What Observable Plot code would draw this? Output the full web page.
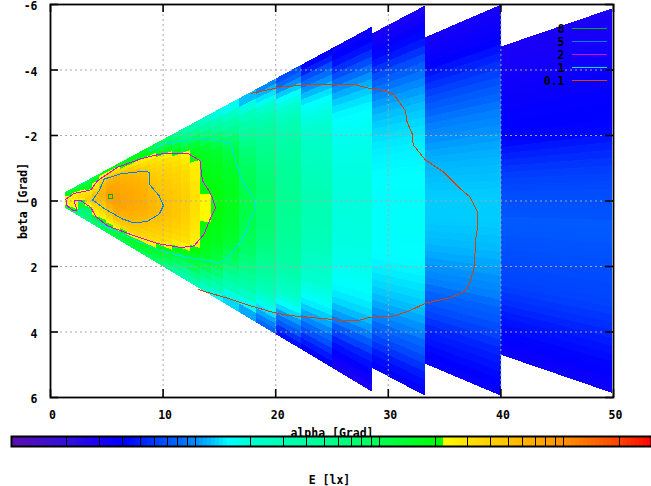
<!DOCTYPE html>
<html>
<head>
<meta charset="utf-8">
<script src="https://cdn.jsdelivr.net/npm/d3@7"></script>
<script src="https://cdn.jsdelivr.net/npm/@observablehq/plot@0.6"></script>
<style>
html,body{margin:0;padding:0;background:#fff}
#chart{position:relative;width:651px;height:486px;overflow:hidden}
#chart svg{position:absolute;left:0;background:transparent}
</style>
</head>
<body>
<div id="chart"></div>
<script>
const xTicks = [0,10,20,30,40,50];
const yTicks = [-6,-4,-2,0,2,4,6];
const xGrid = [10,20,30,40];
const yGrid = [-4,-2,0,2,4];
const columnEdges = [1.37,1.91,2.53,3.15,3.77,4.39,5.01,5.63,6.25,6.87,7.49,8.11,8.74,9.44,10.15,10.86,11.66,12.46,13.35,14.32,15.39,16.81,18.31,20.09,22.30,25.05,28.6,33.30,40.04,49.88];

// wedge sections: alpha range and beta limits at both ends
const sectionStart = [1.37,28.6,33.30,40.04];
const sectionEnd = [28.6,33.30,40.04,49.88];
const topStart = [-0.26,-5.1,-4.98,-4.70];
const topEnd = [-5.31,-5.95,-5.98,-5.86];
const bottomStart = [0.23,5.11,4.98,4.71];
const bottomEnd = [5.84,5.96,5.96,5.87];

// illuminance per column, rows from the top edge to the bottom edge
const col01 = [1.3,1.4,1.6,1.7,1.8,1.9,2.0,2.2,2.3,2.4,2.5,2.5,2.5,2.5,2.5,2.4,2.4,2.4,2.3,2.2,1.9,1.7,1.5,1.3,1.2];
const col02 = [1.0,1.2,1.4,1.7,1.9,2.2,2.4,2.6,2.7,2.7,2.6,2.4,2.2,2.3,2.4,2.4,2.3,2.3,2.2,2.2,2.1,1.5,1.2,1.0,0.8];
const col03 = [0.9,1.0,1.3,1.6,1.8,2.2,2.5,2.8,3.0,3.2,3.1,2.6,1.9,1.5,1.3,1.2,1.3,1.3,1.1,0.9,0.8,0.75,0.7,0.6,0.5];
const col04 = [0.9,1.0,1.2,1.4,1.7,2.1,2.4,2.8,3.2,3.6,3.9,3.9,3.6,3.0,2.6,2.2,1.6,1.1,0.9,0.85,0.9,0.9,0.8,0.65,0.5];
const col05 = [1.2,1.5,1.8,2.2,2.4,2.7,3.1,3.6,4.4,5,5.2,5.2,5,4.4,3.8,3.3,2.9,2.6,2.4,2.2,2,1.4,1.1,0.85,0.7];
const col06 = [1.9,2.2,2.8,3.4,4.2,5,5.4,5.6,5.9,6,5.9,5.5,5.1,4.7,4.2,3.7,3.3,3,2.7,2.4,2.1,1.7,1.3,1,0.85];
const col07 = [2,2.6,3.6,5,5.6,6.2,6.8,7.2,7.6,7.9,8.1,7.9,7.5,6.8,6,5.2,4.6,4,3.4,2.8,2.3,1.8,1.5,1.2,1];
const col08 = [1.9,2.3,3.6,5.1,6,6.5,6.9,7.2,7.4,7.6,7.8,7.9,7.8,7.6,7.3,6.9,6.3,5.4,4.6,3.6,2.8,2.2,1.7,1.3,1];
const col09 = [1.7,2,3.1,4.6,5.5,6,6.4,6.7,7,7.2,7.4,7.5,7.5,7.4,7.2,6.8,6.2,5.5,4.8,4.2,3.2,2.1,1.7,1.4,1.1];
const col10 = [1.65,2.1,3.1,4.2,5.3,5.8,6.1,6.4,6.7,6.9,7,7.1,7.2,7.1,6.9,6.5,6,5.6,5,4.4,3.7,2.4,1.8,1.4,1.1];
const col11 = [1.6,2,2.7,3.5,4.9,5.4,5.8,6.1,6.3,6.5,6.7,6.8,6.9,6.8,6.6,6.2,5.7,5.2,4.6,4.1,3.5,2.7,1.9,1.4,1.1];
const col12 = [1.5,1.9,2.6,3.1,4,5,5.4,5.7,5.9,6.1,6.3,6.4,6.5,6.5,6.3,5.9,5.4,4.8,4.3,3.8,3.3,2.6,1.8,1.4,1];
const col13 = [1.1,1.6,2.3,2.9,3.4,3.8,4.1,4.4,4.8,5.1,5.4,5.6,5.75,5.8,5.6,5.2,4.8,4.4,4,3.6,3.2,2.2,1.6,1.15,0.85];
const col14 = [0.8,1.2,2,2.7,3.1,3.45,3.8,4.05,4.3,4.5,4.75,5,5.15,5.25,5.2,4.9,4.55,4.2,3.85,3.4,3,2.1,1.5,1.1,0.75];
const col15 = [0.7,1.05,1.6,2.5,3,3.4,3.7,3.95,4.2,4.4,4.6,4.8,4.9,4.95,4.85,4.65,4.3,4,3.6,3.2,2.6,1.8,1.2,0.85,0.55];
const col16 = [0.5,0.75,1.25,1.95,2.8,3.1,3.35,3.6,3.8,4,4.2,4.4,4.5,4.5,4.4,4.2,3.9,3.6,3.2,2.7,1.9,1.3,0.9,0.6,0.4];
const col17 = [0.35,0.55,0.85,1.3,2.3,2.7,3,3.2,3.4,3.6,3.75,3.9,4,4,3.9,3.75,3.5,3.3,3,2.4,1.6,1.1,0.75,0.5,0.32];
const col18 = [0.3,0.5,0.9,1.25,1.6,2,2.5,2.6,2.7,2.8,2.85,2.95,3,3,2.95,2.85,2.75,2.6,2.45,2,1.55,1.15,0.85,0.55,0.32];
const col19 = [0.22,0.36,0.6,1,1.35,1.55,1.7,1.8,1.9,1.98,2.08,2.25,2.3,2.3,2.25,2.05,1.95,1.85,1.7,1.5,1.25,0.95,0.6,0.38,0.22];
const col20 = [0.18,0.28,0.42,0.7,1.1,1.35,1.5,1.6,1.7,1.8,1.88,1.93,1.95,1.93,1.88,1.8,1.7,1.6,1.4,1.2,1,0.7,0.45,0.28,0.16];
const col21 = [0.16,0.24,0.34,0.5,0.72,1,1.2,1.35,1.45,1.55,1.62,1.68,1.7,1.68,1.62,1.55,1.42,1.25,1,0.78,0.56,0.4,0.28,0.18,0.13];
const col22 = [0.12,0.18,0.26,0.34,0.44,0.55,0.66,0.76,0.86,0.95,1.03,1.08,1.1,1.08,1.04,0.98,0.9,0.78,0.66,0.55,0.43,0.33,0.24,0.16,0.11];
const col23 = [0.095,0.115,0.135,0.165,0.2,0.24,0.28,0.32,0.36,0.4,0.44,0.47,0.5,0.53,0.56,0.585,0.61,0.635,0.66,0.68,0.7,0.715,0.73,0.735,0.74,0.735,0.73,0.72,0.71,0.685,0.66,0.63,0.6,0.565,0.53,0.495,0.46,0.42,0.38,0.34,0.3,0.26,0.22,0.19,0.16,0.135,0.11,0.09,0.08];
const col24 = [0.065,0.08,0.1,0.125,0.15,0.175,0.2,0.23,0.26,0.285,0.31,0.33,0.35,0.365,0.38,0.395,0.41,0.425,0.44,0.45,0.46,0.465,0.47,0.475,0.48,0.475,0.47,0.46,0.45,0.44,0.43,0.415,0.4,0.385,0.37,0.345,0.32,0.295,0.27,0.24,0.21,0.18,0.155,0.13,0.105,0.085,0.07,0.055,0.045];
const col25 = [0.04,0.05,0.065,0.082,0.1,0.118,0.135,0.15,0.165,0.178,0.19,0.2,0.21,0.22,0.23,0.238,0.245,0.252,0.26,0.268,0.275,0.28,0.285,0.288,0.29,0.288,0.285,0.28,0.275,0.268,0.26,0.25,0.24,0.23,0.22,0.21,0.2,0.185,0.17,0.155,0.14,0.125,0.11,0.095,0.08,0.067,0.055,0.047,0.04];
const col26 = [0.035,0.04,0.045,0.054,0.065,0.082,0.1,0.113,0.125,0.135,0.145,0.15,0.155,0.16,0.165,0.169,0.172,0.175,0.178,0.18,0.182,0.184,0.185,0.185,0.185,0.184,0.183,0.182,0.18,0.178,0.175,0.172,0.168,0.163,0.158,0.152,0.145,0.138,0.13,0.118,0.105,0.088,0.072,0.06,0.05,0.044,0.038,0.034,0.03];
const col27 = [0.03,0.033,0.037,0.042,0.047,0.055,0.065,0.075,0.085,0.095,0.105,0.113,0.12,0.125,0.13,0.134,0.138,0.141,0.143,0.145,0.147,0.149,0.15,0.151,0.152,0.153,0.153,0.153,0.152,0.151,0.15,0.149,0.147,0.144,0.14,0.135,0.13,0.124,0.118,0.109,0.1,0.09,0.08,0.071,0.062,0.055,0.048,0.043,0.038];
const col28 = [0.031,0.033,0.035,0.037,0.04,0.045,0.05,0.055,0.06,0.066,0.072,0.078,0.085,0.09,0.095,0.1,0.105,0.109,0.113,0.116,0.118,0.12,0.122,0.124,0.125,0.125,0.125,0.124,0.122,0.12,0.118,0.114,0.11,0.105,0.1,0.095,0.09,0.082,0.075,0.07,0.065,0.06,0.055,0.051,0.048,0.045,0.042,0.04,0.037];
const col29 = [0.029,0.03,0.03,0.031,0.032,0.033,0.034,0.035,0.036,0.037,0.038,0.039,0.04,0.04,0.041,0.042,0.046,0.05,0.053,0.056,0.059,0.061,0.063,0.065,0.066,0.067,0.068,0.071,0.07,0.069,0.068,0.067,0.066,0.065,0.064,0.063,0.062,0.061,0.059,0.056,0.054,0.051,0.048,0.045,0.043,0.041,0.039,0.037,0.035];
const columns = [col01,col02,col03,col04,col05,col06,col07,col08,col09,col10,col11,col12,col13,col14,col15,col16,col17,col18,col19,col20,col21,col22,col23,col24,col25,col26,col27,col28,col29];

// contour lines: [alpha, beta]
const contour8 = [[5.12,-0.2],[5.47,-0.2],[5.47,-0.08],[5.12,-0.08],[5.12,-0.2]];
const contour5 = [[3.74,-0.03],[4.33,-0.32],[4.77,-0.67],[6.25,-0.83],[8.32,-0.91],[8.76,-0.88],[8.76,-0.52],[9.2,-0.34],[9.65,-0.16],[10.04,0.14],[9.65,0.4],[8.61,0.62],[7.43,0.67],[6.4,0.55],[4.77,0.23],[4.03,0.04],[3.74,-0.03]];
const contour2 = [[1.37,-0.06],[2.1,-0.23],[3.59,-0.34],[4.19,-0.62],[5.96,-1.03],[8.03,-1.29],[10.09,-1.46],[12.16,-1.46],[13.28,-1.23],[13.5,-0.62],[14.24,-0.21],[14.68,0.21],[14.24,0.5],[13.64,1.01],[12.75,1.37],[11.58,1.42],[9.5,1.3],[7.43,1.06],[5.07,0.76],[4.03,0.48],[3.59,0.2],[2.7,-0.01],[2.1,-0.01],[2.34,0.28],[1.96,0.28],[1.45,0.14],[1.37,-0.06]];
const contour1 = [[2.41,0.35],[2.85,0.24],[3.59,0.45],[4.19,0.66],[5.96,0.96],[8.03,1.27],[9.8,1.52],[11.87,1.7],[14.83,1.88],[15.56,1.83],[16.89,1.22],[17.49,0.91],[17.63,0.6],[18.23,0.24],[18.08,-0.06],[16.89,-0.72],[16.45,-1.23],[16.01,-1.74],[14.53,-1.87],[13.35,-1.9],[11.86,-1.85],[10.09,-1.74],[8.91,-1.54]];
const contour01 = [[17.85,-3.29],[19.11,-3.38],[20.44,-3.48],[22.81,-3.55],[27.09,-3.55],[28.42,-3.43],[29.6,-3.38],[30.49,-3.25],[31.52,-2.76],[31.67,-2.41],[32.12,-2.05],[32.21,-1.72],[33.3,-1.25],[34.92,-0.88],[36.41,-0.37],[37.29,-0.11],[37.88,0.3],[37.94,0.81],[37.73,1.22],[37.67,1.98],[37.29,2.44],[36.85,2.75],[35.52,2.95],[33.3,3.12],[31.97,3.34],[30.49,3.51],[28.27,3.56],[27.25,3.66],[26.05,3.66],[24.87,3.61],[22.66,3.54],[21.04,3.49],[19.55,3.38],[17.78,3.2],[16.01,3.0],[13.17,2.71]];

const legendLabels = ["8","5","2","1","0.1"];
const legendColors = ["#00b000","#0080f0","#e000f0","#00e0f8","#d84000"];
const contours = [contour8,contour5,contour2,contour1,contour01];

const colorStops = [0.01,0.02,0.03,0.04,0.05,0.06,0.07,0.08,0.09,0.1,0.12,0.148,0.2,0.3,0.5,1,2.15,2.151,3,5,10,20,30];
const colorValues = ["#5a10b0","#3010e0","#1800f8","#0000ff","#0020ff","#0040ff","#0058ff","#0068ff","#0080ff","#0090ff","#00c0ff","#00ffff","#00ffd0","#00ffb0","#00ff90","#00ff50","#00ff00","#ffff00","#ffe000","#ffc000","#ff9000","#ff4000","#ff0000"];
const barMajor = [0.01,0.1,1,10];
const barMinor = [0.02,0.03,0.04,0.05,0.06,0.07,0.08,0.09,0.2,0.3,0.4,0.5,0.6,0.7,0.8,0.9,2,3,4,5,6,7,8,9,20];
const barLabels = ["0.01","0.1","1","10"];

const font = {fontFamily:"'DejaVu Sans Mono',monospace",fontWeight:"bold",fontSize:"11.5px",color:"#000",background:"transparent"};
const colorScale = {type:"log",domain:colorStops,range:colorValues,clamp:true};

// one quadrilateral for each table cell, spanned between the wedge limits
const edgeAt = (a, start, end, s) => start[s] + (end[s] - start[s]) * (a - sectionStart[s]) / (sectionEnd[s] - sectionStart[s]);
const cells = [];
columns.forEach((col, j) => {
  const s = sectionStart.findLastIndex(v => v <= columnEdges[j]);
  col.forEach((E, i) => {
    for (const a of [columnEdges[j], columnEdges[j + 1]]) {
      const t = edgeAt(a, topStart, topEnd, s), b = edgeAt(a, bottomStart, bottomEnd, s);
      cells.push({alpha: a, b1: t + (b - t) * i / col.length, b2: t + (b - t) * (i + 1) / col.length, E, id: j * 100 + i});
    }
  });
});

const ML = 50, MR = 38, MT = 4, MB = 89, W = 651, H = 486;
const FW = W - ML - MR, FH = H - MT - MB, TICK = 8;

const main = Plot.plot({
  width: W, height: H, marginLeft: ML, marginRight: MR, marginTop: MT, marginBottom: MB,
  style: font,
  x: {domain: [0, 50], axis: null},
  y: {domain: [-6, 6], reverse: true, axis: null},
  color: colorScale,
  marks: [
    Plot.areaY(cells, {x: "alpha", y1: "b1", y2: "b2", z: "id", fill: "E", clip: true, shapeRendering: "crispEdges"}),
    Plot.ruleX(xGrid, {x: d => d, stroke: "#a8a8a8", strokeDasharray: "2,3"}),
    Plot.ruleY(yGrid, {y: d => d, stroke: "#a8a8a8", strokeDasharray: "2,3"}),
    ...contours.map((c, k) => Plot.line(c, {x: d => d[0], y: d => d[1], stroke: legendColors[k], strokeWidth: 1, shapeRendering: "crispEdges"})),
    Plot.ruleX(xTicks, {x: d => d, insetTop: FH - TICK, stroke: "#000", strokeWidth: 1.6}),
    Plot.ruleX(xTicks, {x: d => d, insetBottom: FH - TICK, stroke: "#000", strokeWidth: 1.6}),
    Plot.ruleY(yTicks, {y: d => d, insetRight: FW - TICK, stroke: "#000", strokeWidth: 1.6}),
    Plot.ruleY(yTicks, {y: d => d, insetLeft: FW - TICK, stroke: "#000", strokeWidth: 1.6}),
    Plot.frame({stroke: "#000", strokeWidth: 1.8}),
    Plot.axisX(xTicks, {anchor: "bottom", tickSize: 0, tickPadding: 13, label: null, dx: 2, tickFormat: d => String(d)}),
    Plot.axisY(yTicks, {anchor: "left", tickSize: 0, tickPadding: 13, label: null, dy: 2, tickFormat: d => String(d)}),
    Plot.text(["alpha [Grad]"], {frameAnchor: "bottom", lineAnchor: "middle", dy: 36}),
    Plot.text(["beta [Grad]"], {frameAnchor: "left", rotate: -90, lineAnchor: "middle", dx: -27, textAnchor: "middle"})
  ]
});
main.style.top = "0px";

const barEdges = d3.range(0, 161).map(i => 0.01 * Math.pow(3000, i / 160));
const bar = Plot.plot({
  width: W, height: 56, marginLeft: 11, marginRight: 0, marginTop: 6, marginBottom: 40,
  style: font,
  x: {type: "log", domain: [0.01, 30], axis: null},
  y: {axis: null},
  color: colorScale,
  marks: [
    Plot.rectY(d3.pairs(barEdges), {x1: d => d[0], x2: d => d[1], fill: d => d[0], shapeRendering: "crispEdges"}),
    Plot.ruleX([...barMajor, ...barMinor], {x: d => d, stroke: "#000", strokeWidth: 1, shapeRendering: "crispEdges"}),
    Plot.frame({stroke: "#000", strokeWidth: 2}),
    Plot.axisX(barMajor, {anchor: "bottom", tickSize: 0, tickPadding: 8, dx: 2, label: null, tickFormat: (d, i) => barLabels[i]}),
    Plot.text(["E [lx]"], {frameAnchor: "bottom", lineAnchor: "middle", dy: 33.5, dx: -2})
  ]
});
bar.style.top = "430px";

const legend = Plot.plot({
  width: W, height: 93, marginLeft: 572, marginRight: 44, marginTop: 28, marginBottom: 13,
  style: font,
  x: {axis: null},
  y: {type: "point", domain: legendLabels, padding: 0, axis: null},
  marks: [
    Plot.ruleY(legendLabels, {y: d => d, stroke: d => legendColors[legendLabels.indexOf(d)], strokeWidth: 1}),
    Plot.axisY(legendLabels, {anchor: "left", tickSize: 0, tickPadding: 8, label: null, dy: 1})
  ]
});
legend.style.top = "0px";

document.getElementById("chart").append(main, bar, legend);
</script>
</body>
</html>
